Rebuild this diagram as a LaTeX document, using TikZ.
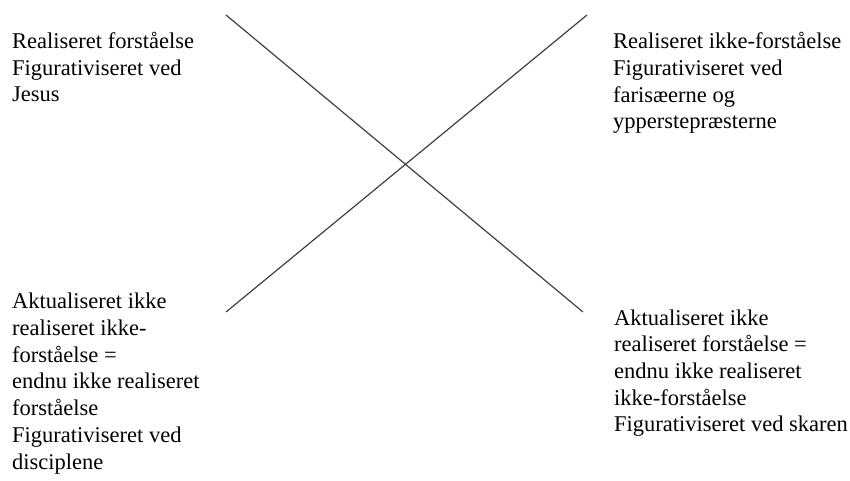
\documentclass[tikz,border=0pt]{standalone}
\usepackage{fontspec}
\setmainfont{Liberation Serif}
\tikzset{
	felt/.style={anchor=base west, align=left, inner sep=0pt, font=\fontsize{22.5}{26.67}\selectfont},
	kryds/.style={color=black!75, line width=1.2pt}
}
\begin{document}
\begin{tikzpicture}[x=1pt,y=-1pt]
			\useasboundingbox (0,0) rectangle (850,481);
			\coordinate (ov) at (226,15);
			\coordinate (oh) at (587,15);
			\coordinate (nv) at (226,312);
			\coordinate (nh) at (583,312);
			\draw[kryds] (ov) -- (nh);
			\draw[kryds] (oh) -- (nv);
			% base = last line
			\node[felt] (rf) at (12,101.7) {Realiseret forståelse\\Figurativiseret ved\\Jesus};
			\node[felt] (rif) at (613,129) {Realiseret ikke-forståelse\\Figurativiseret ved\\farisæerne og\\ypperstepræsterne};
			\node[felt] (aif) at (12,469) {Aktualiseret ikke\\realiseret ikke-\\forståelse =\\endnu ikke realiseret\\forståelse\\Figurativiseret ved\\disciplene};
			\node[felt] (af) at (614,431.7) {Aktualiseret ikke\\realiseret forståelse =\\endnu ikke realiseret\\ikke-forståelse\\Figurativiseret ved skaren};
		\end{tikzpicture}
\end{document}
